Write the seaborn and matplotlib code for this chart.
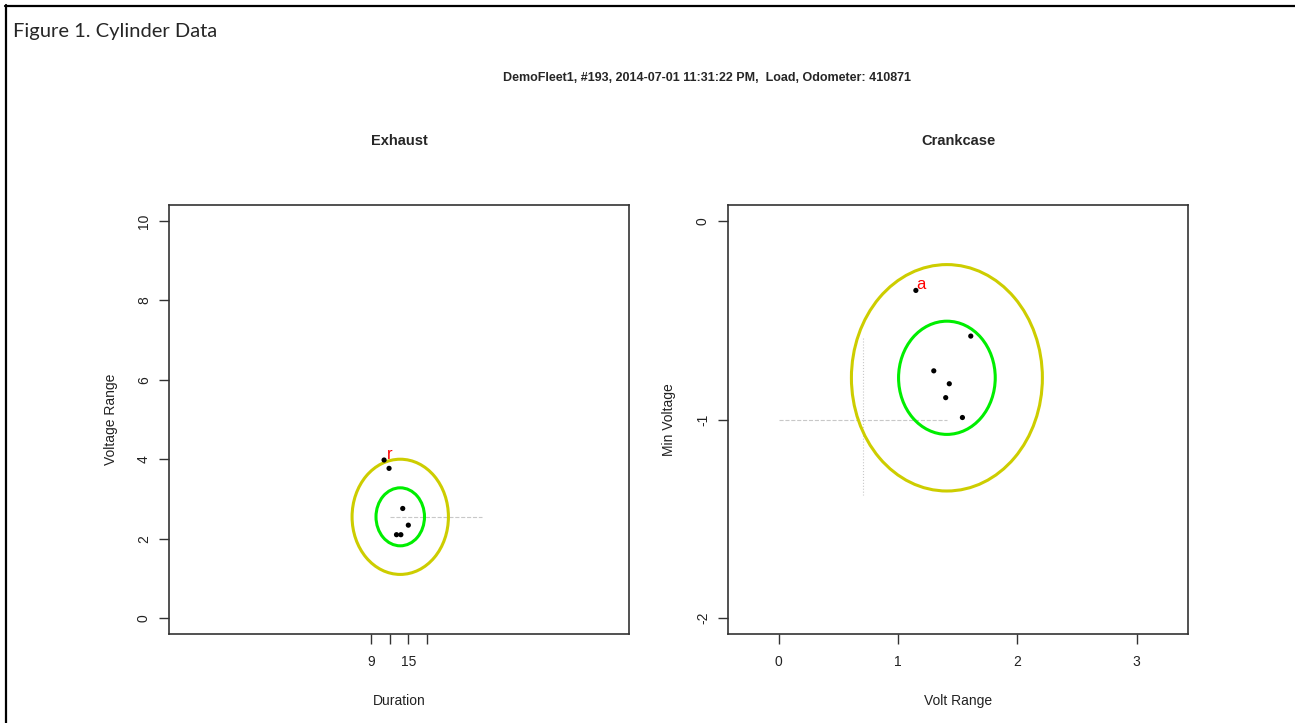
import matplotlib
matplotlib.use("Agg")
import matplotlib.pyplot as plt
import seaborn as sns
from matplotlib import font_manager
from matplotlib.patches import Ellipse
from matplotlib.lines import Line2D

caption = "Figure 1. Cylinder Data"
main_title = "DemoFleet1, #193, 2014-07-01 11:31:22 PM,  Load, Odometer: 410871"

# Exhaust panel
exhaust_duration = [11.1, 11.9, 14.1, 15.0, 13.1, 13.8]
exhaust_range = [3.98, 3.77, 2.76, 2.34, 2.10, 2.10]
exhaust_labels = ["r", "", "", "", "", ""]
exhaust_center = (13.7, 2.55)
exhaust_inner = (7.8, 1.46)     # full width, full height
exhaust_outer = (15.5, 2.90)
exhaust_xticks = [9, 12, 15, 18]
exhaust_xticklabels = ["9", "", "15", ""]
exhaust_yticks = [0, 2, 4, 6, 8, 10]
exhaust_yticklabels = ["0", "2", "4", "6", "8", "10"]
exhaust_ref_x = [12.1, 26.9]
exhaust_ref_y = [2.55, 2.55]

# Crankcase panel
crank_volt_range = [1.15, 1.61, 1.30, 1.43, 1.40, 1.54]
crank_min_voltage = [-0.35, -0.58, -0.755, -0.82, -0.89, -0.99]
crank_labels = ["a", "", "", "", "", ""]
crank_center = (1.41, -0.79)
crank_inner = (0.81, 0.57)
crank_outer = (1.60, 1.14)
crank_xticks = [0, 1, 2, 3]
crank_xticklabels = ["0", "1", "2", "3"]
crank_yticks = [0, -1, -2]
crank_yticklabels = ["0", "-1", "-2"]
crank_ref_h_x = [0.0, 1.41]
crank_ref_h_y = [-1.0, -1.0]
crank_ref_v_x = [0.71, 0.71]
crank_ref_v_y = [-0.59, -1.38]

sns.set_style("white")
plt.rcParams["font.family"] = ["Liberation Sans", "DejaVu Sans"]

# the R title is set in a narrow face; use one if it is there
installed = {f.name for f in font_manager.fontManager.ttflist}
if "Liberation Sans Narrow" in installed:
    title_family, title_size = ["Liberation Sans Narrow", "DejaVu Sans"], 10.5
else:
    title_family, title_size = ["Liberation Sans", "DejaVu Sans"], 9

W, H = 1295, 723
fig = plt.figure(figsize=(W / 100, H / 100), dpi=100)
fig.patch.set_facecolor("white")

ax1 = fig.add_axes([169 / W, 1 - 634 / H, 460 / W, 429 / H])
ax2 = fig.add_axes([728 / W, 1 - 634 / H, 460 / W, 429 / H])

YELLOW = "#CDCD00"
GREEN = "#00EE00"
GREY = "#C8C8C8"


def draw_panel(ax, xs, ys, labels, center, inner, outer, ref_lines):
    for rx, ry, ls in ref_lines:
        ax.plot(rx, ry, color=GREY, lw=0.8, ls=ls, zorder=1)
    ax.add_patch(Ellipse(center, outer[0], outer[1], fill=False,
                         edgecolor=YELLOW, lw=2.2, zorder=2))
    ax.add_patch(Ellipse(center, inner[0], inner[1], fill=False,
                         edgecolor=GREEN, lw=2.2, zorder=2))
    sns.scatterplot(x=xs, y=ys, ax=ax, color="black", s=14,
                    edgecolor="none", legend=False, zorder=3)
    for lab, x, y in zip(labels, xs, ys):
        if lab:
            ax.annotate(lab, (x, y), xytext=(4, 4), textcoords="offset points",
                        color="red", fontsize=12, ha="center", va="center", zorder=4)


def style_panel(ax, title, xlabel, ylabel, xlim, ylim, xticks, xticklabels,
                yticks, yticklabels):
    ax.set_xlim(xlim)
    ax.set_ylim(ylim)
    ax.set_xticks(xticks)
    ax.set_xticklabels(xticklabels, fontsize=10)
    ax.set_yticks(yticks)
    ax.set_yticklabels(yticklabels, fontsize=10, rotation=90, va="center")
    ax.tick_params(axis="x", bottom=True, direction="out", length=7, width=1,
                   color="#333333", pad=8, labelcolor="#222222")
    ax.tick_params(axis="y", left=True, direction="out", length=7, width=1,
                   color="#333333", pad=6, labelcolor="#222222")
    for s in ax.spines.values():
        s.set_visible(True)
        s.set_color("#333333")
        s.set_linewidth(1.2)
    ax.set_title(title, fontsize=10.5, fontweight="bold", pad=43)
    ax.set_xlabel(xlabel, fontsize=10, labelpad=18, color="#222222")
    ax.set_ylabel(ylabel, fontsize=10, labelpad=14, color="#222222")


draw_panel(ax1, exhaust_duration, exhaust_range, exhaust_labels, exhaust_center,
           exhaust_inner, exhaust_outer, [(exhaust_ref_x, exhaust_ref_y, "--")])
style_panel(ax1, "Exhaust", "Duration", "Voltage Range", (-23.5, 50.5), (-0.4, 10.4),
            exhaust_xticks, exhaust_xticklabels, exhaust_yticks, exhaust_yticklabels)

draw_panel(ax2, crank_volt_range, crank_min_voltage, crank_labels, crank_center,
           crank_inner, crank_outer,
           [(crank_ref_h_x, crank_ref_h_y, "--"), (crank_ref_v_x, crank_ref_v_y, ":")])
style_panel(ax2, "Crankcase", "Volt Range", "Min Voltage", (-0.424, 3.43), (-2.08, 0.08),
            crank_xticks, crank_xticklabels, crank_yticks, crank_yticklabels)

fig.text(707 / W, 1 - 78 / H, main_title, fontsize=title_size, fontweight="bold",
         family=title_family, ha="center", va="center")
fig.text(13 / W, 1 - 31 / H, caption, fontsize=14.5, family=["Lato", "DejaVu Sans"],
         ha="left", va="center")

# document frame: top and left rules
fig.add_artist(Line2D([5 / W, 1], [1 - 5.5 / H, 1 - 5.5 / H], transform=fig.transFigure,
                      color="black", lw=1.6))
fig.add_artist(Line2D([5.5 / W, 5.5 / W], [0, 1 - 5 / H], transform=fig.transFigure,
                      color="black", lw=1.6))

fig.savefig("out.png", dpi=100, facecolor="white")
